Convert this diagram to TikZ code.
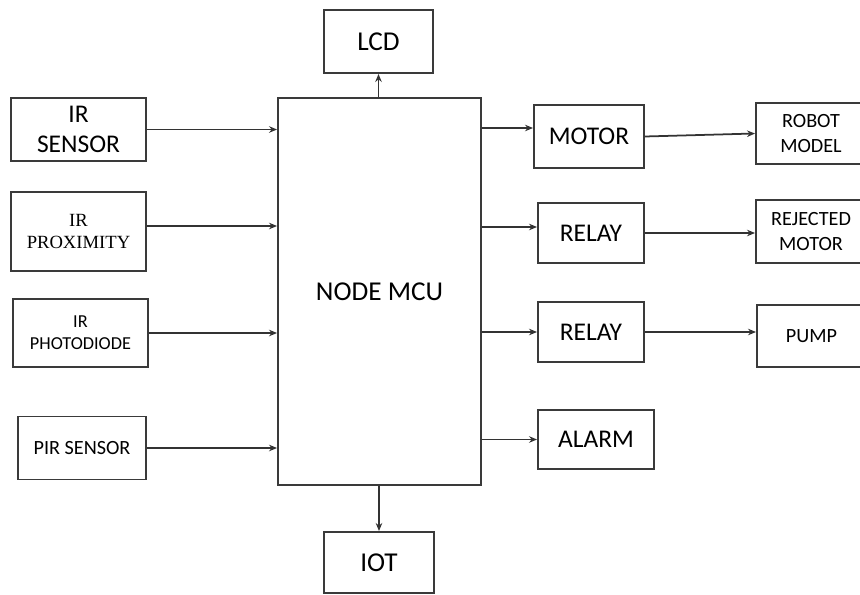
\documentclass[tikz,border=0pt]{standalone}
\usepackage{fontspec}
\setmainfont{Carlito}
\newfontfamily\timesfont{Liberation Serif}
\usepackage{tikz}
\usetikzlibrary{arrows.meta,positioning}
\definecolor{edge}{HTML}{3A3A3A}
\newcommand{\bigtext}{\fontsize{14.5}{17.4}\selectfont}
\newcommand{\smalltext}{\fontsize{11.5}{13.8}\selectfont}

\begin{document}
\begin{tikzpicture}[x=0.02cm, y=-0.02cm, font=\bigtext,
  box/.style={draw=edge, line width=1.1pt, align=center, inner sep=0pt, text=black, fill=white},
  sbox/.style={box, font=\smalltext},
  arr/.style={-{Stealth[length=1.6mm, width=1.3mm]}, line width=1pt, draw=black!80}]
  \useasboundingbox (0,0) rectangle (860,595);
  \node[box, minimum width=4.06cm, minimum height=7.74cm, font=\fontsize{15.5}{18}\selectfont] (mcu) at (379.5,291.5) {NODE MCU};
  \node[box, minimum width=2.18cm, minimum height=1.26cm, font=\fontsize{15.5}{18}\selectfont] (lcd) at (378.5,41.5) {LCD};
  \node[box, minimum width=2.2cm, minimum height=1.22cm, font=\fontsize{15.5}{18}\selectfont] (iot) at (379,562.5) {IOT};
  \node[box, minimum width=2.7cm, minimum height=1.26cm] (irs) at (78.5,129.5) {IR\\SENSOR};
  \node[box, minimum width=2.7cm, minimum height=1.58cm, font=\timesfont\fontsize{10.6}{12.5}\selectfont] (irp) at (78.5,231.5) {IR\\PROXIMITY};
  \node[sbox, minimum width=2.7cm, minimum height=1.36cm, font=\fontsize{10.4}{12.5}\selectfont] (ipd) at (80.5,333) {IR\\PHOTODIODE};
  \node[sbox, minimum width=2.56cm, minimum height=1.26cm] (pir) at (82,448) {PIR SENSOR};
  \node[box, minimum width=2.2cm, minimum height=1.26cm] (mot) at (589,136.5) {MOTOR};
  \node[box, minimum width=2.12cm, minimum height=1.2cm] (rly1) at (591,233) {RELAY};
  \node[box, minimum width=2.12cm, minimum height=1.2cm] (rly2) at (591,332) {RELAY};
  \node[box, minimum width=2.32cm, minimum height=1.18cm] (alm) at (596,439.5) {ALARM};
  \node[sbox, minimum width=2.2cm, minimum height=1.22cm] (rob) at (811,133.5) {ROBOT\\MODEL};
  \node[sbox, minimum width=2.2cm, minimum height=1.26cm] (rej) at (811,231.5) {REJECTED\\MOTOR};
  \node[sbox, minimum width=2.18cm, minimum height=1.24cm] (pmp) at (811.5,336) {PUMP};
  \draw[arr] (lcd.south |- mcu.north) -- (lcd.south);
  \draw[arr] (mcu.south -| iot.north) -- (iot.north);
  \draw[arr] (irs.east) -- (irs.east -| mcu.west);
  \draw[arr] ([yshift=0.11cm]irp.east) -- ([yshift=0.11cm]irp.east -| mcu.west);
  \draw[arr] (ipd.east) -- (ipd.east -| mcu.west);
  \draw[arr] (pir.east) -- (pir.east -| mcu.west);
  \draw[arr] ([yshift=0.17cm]mcu.east |- mot.west) -- ([yshift=0.17cm]mot.west);
  \draw[arr] ([yshift=0.12cm]mcu.east |- rly1.west) -- ([yshift=0.12cm]rly1.west);
  \draw[arr] (mcu.east |- rly2.west) -- (rly2.west);
  \draw[arr] (mcu.east |- alm.west) -- (alm.west);
  \draw[arr] (mot.east) -- (rob.west);
  \draw[arr] (rly1.east) -- (rly1.east -| rej.west);
  \draw[arr] (rly2.east) -- (rly2.east -| pmp.west);
\end{tikzpicture}
\end{document}
